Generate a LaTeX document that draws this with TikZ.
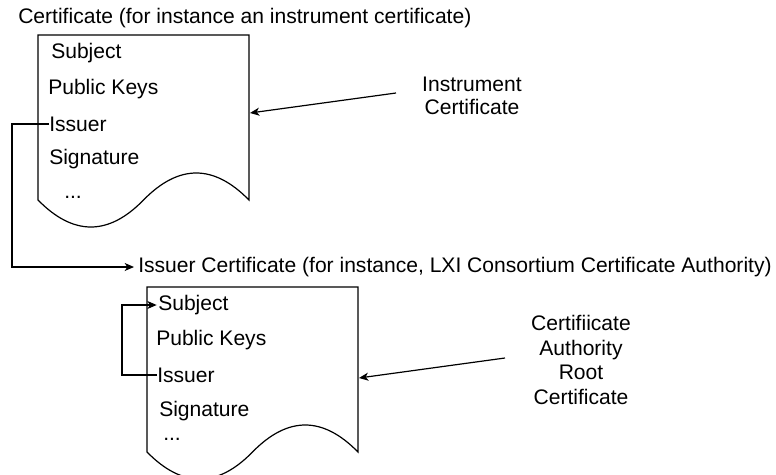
\documentclass[tikz,border=0pt]{standalone}
\usepackage{fontspec}
\setmainfont{Liberation Sans}
\usetikzlibrary{arrows.meta}
% sheet with wavy bottom, (#1,#2) is its top left corner
\def\certsheet(#1,#2){\draw[line width=0.9pt] (#1,#2) -- ++(211,0) -- ++(0,165)
	.. controls ++(-35.3,-36) and ++(35.3,-36) .. ++(-105.5,0)
	.. controls ++(-35,36) and ++(35.3,36) .. ++(-105.5,0) -- cycle;}

\begin{document}
\begin{tikzpicture}[x=0.75pt,y=-0.75pt,
	lbl/.style={anchor=west,inner sep=0pt,font=\fontsize{15.8}{18}\selectfont},
	note/.style={align=center,inner sep=0pt,font=\fontsize{15.8}{17.5}\selectfont},
	link/.style={line width=0.9pt,-{Stealth[length=7pt,width=6pt,inset=2pt]}}]
		%%%%% START %%%%%
		\useasboundingbox (0,0) rectangle (776,475);
		
		% instrument certificate
		\node[lbl] (title1) at (18,18) {Certificate (for instance an instrument certificate)};
		\certsheet(38,35)
		\node[lbl] (subj1) at (51,53) {Subject};
		\node[lbl] (keys1) at (48,89) {Public Keys};
		\node[lbl] (iss1) at (49,124) {Issuer};
		\node[lbl] (sig1) at (49,159) {Signature};
		\node[lbl] (dots1) at (64,197) {...};
		\node[note] (inst) at (472,96) {Instrument\\Certificate};
		\coordinate (tail1) at (396,93);
		\coordinate (side1) at (250,113);
		
		% issuer / root certificate
		\node[lbl] (title2) at (138,267) {Issuer Certificate (for instance, LXI Consortium Certificate Authority)};
		\certsheet(147,287)
		\node[lbl] (subj2) at (158,305) {Subject};
		\node[lbl] (keys2) at (156,340) {Public Keys};
		\node[lbl] (iss2) at (157,375) {Issuer};
		\node[lbl] (sig2) at (159,411) {Signature};
		\node[lbl] (dots2) at (163,439) {...};
		\node[note,font=\fontsize{15.8}{18.5}\selectfont] (root) at (581,360) {Certifiicate\\Authority\\Root\\Certificate};
		\coordinate (tail2) at (505,358);
		\coordinate (side2) at (359,378);
		
		% connectors
		\draw[link] (tail1) -- (side1);
		\draw[link] (tail2) -- (side2);
		\draw[link] (iss1.west) -- ++(-37,0) |- ([xshift=-3pt]title2.west);
		\draw[link] (iss2.west) -- ++(-35,0) |- ([xshift=-1pt]subj2.west);
		%%%%% END %%%%%
	\end{tikzpicture}
\end{document}
